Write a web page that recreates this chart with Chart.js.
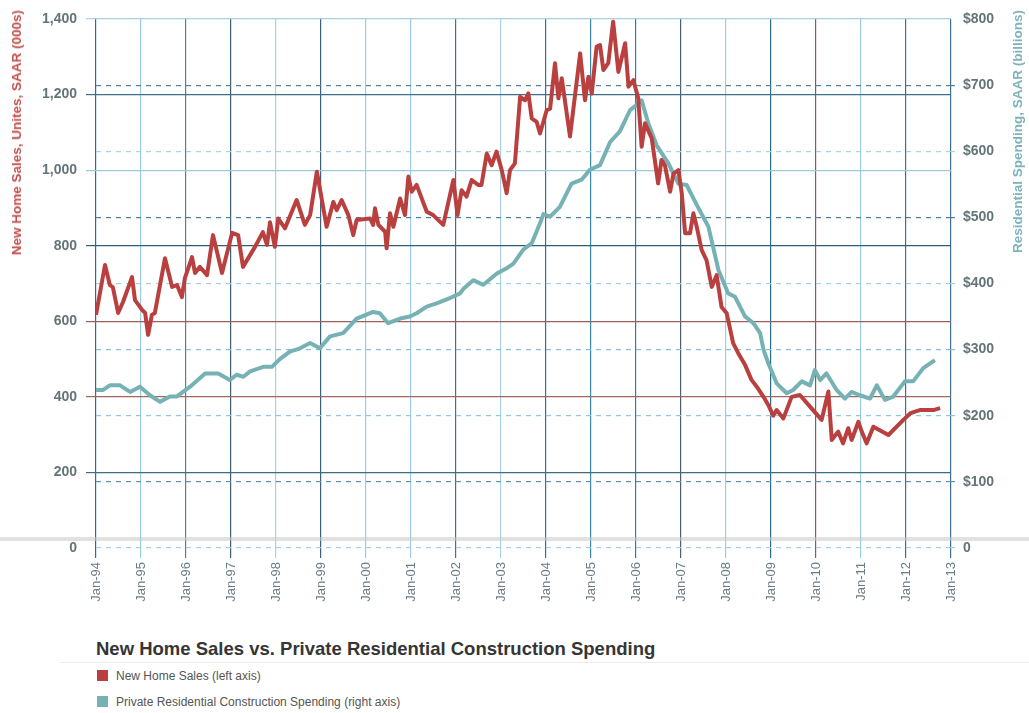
<!DOCTYPE html>
<html>
<head>
<meta charset="utf-8">
<script src="https://cdn.jsdelivr.net/npm/chart.js@4.4.1/dist/chart.umd.min.js"></script>
<style>
  body { margin:0; background:#fff; font-family:"Liberation Sans", Arial, sans-serif; }
  #wrap { position:relative; width:1029px; height:713px; overflow:hidden; }
  #chart { position:absolute; left:0; top:0; }
  .ytitle { position:absolute; writing-mode:vertical-rl; transform:rotate(180deg); font-weight:bold; font-size:13.5px; white-space:nowrap; }
  #lt { left:9px; top:10px; color:#c0504d; }
  #rt { left:1010px; top:10px; color:#7db4b9; }
  #title { position:absolute; left:96px; top:638px; font-size:18.5px; font-weight:bold; color:#353535; }
  #rule { position:absolute; left:60px; top:662px; width:969px; height:1px; background:#ececec; }
  .item { position:absolute; left:97px; font-size:12px; color:#555; }
  .item span { display:inline-block; width:11px; height:11px; margin-right:8px; vertical-align:-1px; }
</style>
</head>
<body>
<div id="wrap">
  <canvas id="chart" width="1029" height="630"></canvas>
  <div class="ytitle" id="lt">New Home Sales, Unites, SAAR (000s)</div>
  <div class="ytitle" id="rt">Residential Spending, SAAR (billions)</div>
  <div id="title">New Home Sales vs. Private Residential Construction Spending</div>
  <div id="rule"></div>
  <div class="item" style="top:669px"><span style="background:#b9403f"></span>New Home Sales (left axis)</div>
  <div class="item" style="top:695px"><span style="background:#76b1b4"></span>Private Residential Construction Spending (right axis)</div>
</div>
<script>
// months counted from Jan-94
const yearLabels = ['Jan-94','Jan-95','Jan-96','Jan-97','Jan-98','Jan-99','Jan-00','Jan-01','Jan-02','Jan-03',
  'Jan-04','Jan-05','Jan-06','Jan-07','Jan-08','Jan-09','Jan-10','Jan-11','Jan-12','Jan-13'];

// new home sales, thousands (left axis)
const salesMonths = [0,2.4,3.7,4.5,5.9,7.2,9.6,10.4,12.3,13.1,13.9,14.9,15.7,18.4,20.3,21.6,22.9,23.7,25.6,26.4,27.7,29.6,31.2,33.6,36.3,
  37.9,39.2,42.4,44.5,45.6,46.4,47.7,48.6,50.4,53.5,55.7,57.1,58.9,61.5,63.3,64.2,65.5,67.3,68.6,69.5,73.1,73.9,74.4,75.3,77.1,77.5,78.4,79.3,
  81.1,82.4,83.3,84.2,85.5,88.2,89.9,92.6,95.3,96.4,97.5,98.8,100.2,101.9,102.8,104.2,105.5,106.8,108.2,109.5,110.4,111.7,113.1,114.4,115.3,
  116.2,117.5,118.4,120.2,121.1,122.4,123.3,124.2,126.4,129.1,130.4,131.3,132.2,133.5,134.4,135.3,136.6,137.9,139.3,141.1,142.0,143.3,144.6,
  145.5,146.4,148.2,149.9,150.8,151.7,153.1,154.0,155.3,156.2,157.1,158.4,159.3,160.2,161.5,162.8,164.2,165.5,166.8,168.2,169.9,171.3,173.1,
  174.8,176.2,178.0,179.3,180.6,181.5,183.3,185.5,187.7,190.4,193.5,195.3,196.2,197.9,199.2,200.6,201.5,203.3,204.2,205.5,207.3,211.3,215.3,
  217.1,218.4,219.7,221.1,223.3,225.1];
const salesValues = [617,749,696,690,622,651,717,656,630,622,564,617,622,767,691,696,664,714,770,728,744,722,828,728,834,
  828,744,797,836,802,862,797,872,846,921,855,881,996,850,916,894,921,881,828,868,872,855,899,855,837,793,886,850,
  925,881,983,943,961,890,881,855,974,881,947,930,974,961,961,1044,1013,1049,1000,939,1000,1018,1194,1185,1203,
  1137,1128,1097,1159,1163,1283,1190,1243,1089,1309,1185,1247,1203,1327,1331,1265,1283,1393,1260,1336,1221,1238,1190,
  1062,1124,1084,965,1027,1013,943,991,1000,939,833,833,886,850,789,762,691,722,638,621,542,515,484,
  445,427,400,378,350,365,343,400,405,374,339,414,286,308,277,317,286,334,308,277,321,299,339,
  356,361,365,365,365,370];

// private residential construction spending, $ billions (right axis)
const spendMonths = [0,1.9,3.7,6.4,9.1,11.7,14.4,17.1,19.7,21.5,25.1,29.1,32.6,35.7,37.5,39.3,41.1,44.6,46.9,49.1,51.7,54.4,57.1,59.7,
  62.4,65.9,69.5,73.9,75.7,77.9,81.1,83.7,85.5,88.2,90.8,94.4,97.1,98.0,100.6,103.3,106.9,109.5,111.3,113.9,116.2,118.4,119.3,121.1,123.7,
  126.8,129.5,131.7,134.4,137.1,139.7,142.4,143.7,145.5,147.3,149.5,152.6,155.3,157.5,160.2,163.3,166.0,168.6,170.4,173.1,175.3,177.1,178.0,
  179.3,181.5,184.2,185.9,188.2,190.4,191.7,193.1,194.8,197.5,199.7,201.5,203.7,206.4,208.2,210.4,212.6,215.7,217.9,220.6,223.7];
const spendValues = [239,239,246,246,236,244,231,221,229,229,244,264,264,254,262,259,267,274,274,286,297,302,310,302,
  320,325,347,357,355,340,347,350,355,365,370,378,385,392,405,398,415,423,430,451,461,491,505,501,516,
  551,557,572,579,614,630,662,668,677,642,609,582,551,549,519,486,420,385,380,350,340,325,300,
  279,249,234,239,252,246,269,254,264,239,226,236,231,226,246,224,229,252,252,272,284];

const leftTicks = [0,200,400,600,800,1000,1200,1400];
const rightTicks = [0,100,200,300,400,500,600,700,800];

const hColors = {0:'rgba(0,0,0,0)',200:'#3d6d86',400:'#a0675f',600:'#9a5f58',800:'#2f5f78',1000:'#9cc9dc',1200:'#3b6f8a',1400:'#a8d0e0'};
const dColors = {0:'#a6d0e3',100:'#5f93ad',200:'#93c6dc',300:'#86bcd6',400:'#a3d0e3',500:'#46809e',600:'#a9d3e5',700:'#52839e',800:'rgba(0,0,0,0)'};
const vColors = ['#2c6f92','#9ccbe0','#5c7f94','#3f5f74','#a6cfe0','#3b6278','#9fcbe0','#9fcbe0','#4a6f86','#a8d0e2',
  '#2f7296','#3c86aa','#3a7a9c','#4b6070','#a0cbe0','#2f6a88','#8a5a58','#9fcbe0','#3f6f8a','#3f6f8a'];

const bandPlugin = {
  id:'band',
  beforeDatasetsDraw(chart){
    const ctx = chart.ctx;
    ctx.save();
    ctx.fillStyle = 'rgba(200,200,200,0.55)';
    ctx.fillRect(0, 537, chart.width, 4);
    ctx.restore();
  }
};

new Chart(document.getElementById('chart').getContext('2d'), {
  type:'line',
  data:{ datasets:[
    { label:'New Home Sales (left axis)', data:salesMonths.map((m,i)=>({x:m,y:salesValues[i]})),
      borderColor:'#b9403f', borderWidth:4, pointRadius:0, yAxisID:'y', borderJoinStyle:'round' },
    { label:'Private Residential Construction Spending (right axis)', data:spendMonths.map((m,i)=>({x:m,y:spendValues[i]})),
      borderColor:'#76b1b4', borderWidth:4, pointRadius:0, yAxisID:'y1', borderJoinStyle:'round' }
  ]},
  options:{
    responsive:false, animation:false,
    layout:{ padding:{ top:19, left:0, right:0, bottom:0 } },
    plugins:{ legend:{display:false}, tooltip:{enabled:false} },
    scales:{
      x:{ type:'linear', min:0, max:228,
        afterBuildTicks(s){ s.ticks = yearLabels.map((l,i)=>({value:i*12})); },
        afterFit(s){ s.height = 82; },
        border:{display:false},
        grid:{ color:c=>vColors[c.index]||'#9fcbe0', lineWidth:1.2, tickLength:10 },
        ticks:{ callback:(v)=>yearLabels[v/12], maxRotation:90, minRotation:90, padding:4, color:'#6b7c83',
          font:{ family:'"Liberation Sans", Arial, sans-serif', size:13 } } },
      y:{ position:'left', min:0, max:1400,
        afterBuildTicks(s){ s.ticks = leftTicks.map(v=>({value:v})); },
        afterFit(s){ s.width = 96; },
        border:{display:false},
        grid:{ color:c=>hColors[c.tick.value], lineWidth:1.2, tickLength:10 },
        ticks:{ callback:v=>v.toLocaleString('en-US'), padding:9, color:'#637479',
          font:{ family:'"Liberation Sans", Arial, sans-serif', size:14, weight:'bold' } } },
      y1:{ position:'right', min:0, max:800,
        afterBuildTicks(s){ s.ticks = rightTicks.map(v=>({value:v})); },
        afterFit(s){ s.width = 78; },
        border:{display:false, dash:[5,5]},
        grid:{ color:c=>dColors[c.tick.value], lineWidth:1.2, tickLength:4, drawOnChartArea:true },
        ticks:{ callback:v=>v===0?'0':'$'+v, padding:8, color:'#637479',
          font:{ family:'"Liberation Sans", Arial, sans-serif', size:14, weight:'bold' } } }
    }
  },
  plugins:[bandPlugin]
});
</script>
</body>
</html>
